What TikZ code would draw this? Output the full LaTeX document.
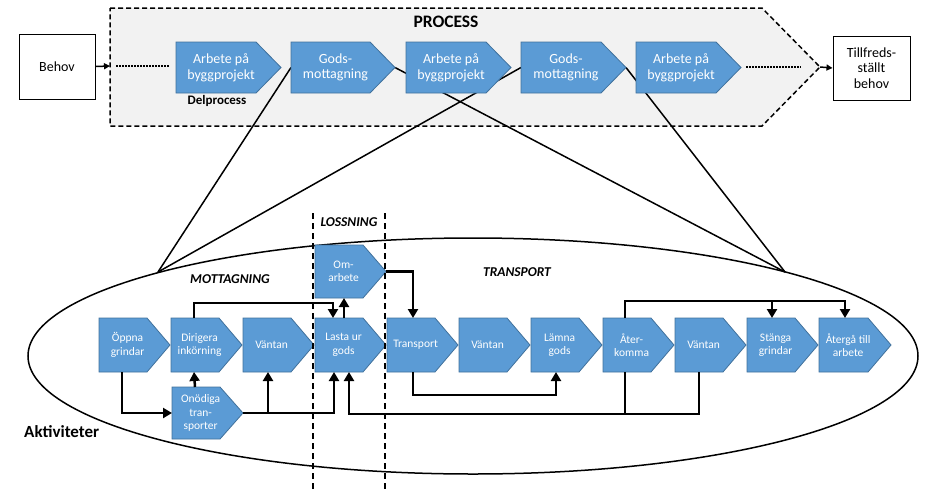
\documentclass[tikz,border=0pt]{standalone}
\usepackage{fontspec}
\setmainfont{Carlito}
\usetikzlibrary{arrows.meta,calc,shapes.geometric}
\definecolor{chevblue}{HTML}{5B9BD5}
\definecolor{chevedge}{HTML}{41719C}
\definecolor{procgray}{HTML}{F2F2F2}
\pgfdeclarelayer{back}
\pgfdeclarelayer{mid}
\pgfsetlayers{back,mid,main}
% #1 name, #2 x, #3 y top, #4 width, #5 height, #6 point, #7 text style, #8 text
\newcommand\chev[8]{%
  \node[chevbox, minimum width=#4pt, minimum height=#5pt, anchor=north west] (#1) at (#2,#3) {};
  \filldraw[chevshape] (#1.north west) -- ($(#1.north east)+(-#6,0)$) -- (#1.east)
     -- ($(#1.south east)+(-#6,0)$) -- (#1.south west) -- cycle;
  \node[#7] (#1-t) at ($(#1.center)+(-0.3*#6,0)$) {#8};
}
\tikzset{
  chevshape/.style={fill=chevblue, draw=chevedge, line width=0.8pt},
  chevbox/.style={inner sep=0pt, outer sep=0pt, draw=none},
  smalltext/.style={text=white, font=\fontsize{11.5}{13.5}\selectfont, align=center, inner sep=0pt},
  bigtext/.style={text=white, font=\fontsize{14}{15.5}\selectfont, align=center, inner sep=0pt},
  conn/.style={line width=2.5pt, -{Triangle[length=9pt,width=10pt]}},
  link/.style={line width=2.5pt},
  thin/.style={line width=1.5pt},
  whitebox/.style={draw, line width=1pt, fill=white, align=center, inner sep=0pt, font=\fontsize{14}{15.5}\selectfont},
  lbl/.style={inner sep=0pt, font=\bfseries\itshape\fontsize{13.5}{15}\selectfont},
}
\begin{document}
\begin{tikzpicture}[x=1pt,y=-1pt]
\useasboundingbox (0,0) rectangle (943,491);
% process shape
\begin{pgfonlayer}{back}
\filldraw[fill=procgray, line width=1.5pt, dash pattern=on 5pt off 3pt]
  (110,8) -- (762,8) -- (820,67) -- (762,126) -- (110,126) -- cycle;
\end{pgfonlayer}
\coordinate (pL) at (110,66);
\coordinate (pR) at (820,67);
\node[whitebox, minimum width=76pt, minimum height=65pt] (behov) at (57,66.5) {Behov};
\node[whitebox, minimum width=77pt, minimum height=64pt] (till) at (871.5,68) {Tillfreds-\\ställt\\behov};
\draw[thin, -{Triangle[length=6pt,width=6pt]}] (behov.east) -- (pL);
\draw[thin, -{Triangle[length=6pt,width=6pt]}] (pR) -- (till.west);
\coordinate (d1a) at (116,66); \coordinate (d1b) at (170,66);
\coordinate (d2a) at (746,67); \coordinate (d2b) at (801,67);
\draw[line width=1.5pt, dash pattern=on 1.5pt off 1.5pt] (d1a) -- (d1b);
\draw[line width=1.5pt, dash pattern=on 1.5pt off 1.5pt] (d2a) -- (d2b);
\node[inner sep=0pt, font=\bfseries\fontsize{17.5}{19}\selectfont] (proc) at (446,22) {PROCESS};
\node[inner sep=0pt, font=\bfseries\fontsize{13}{15}\selectfont] (delp) at (217,101) {Delprocess};
% upper chevrons
\chev{arb1}{176}{42}{105}{51}{25}{bigtext}{Arbete på\\byggprojekt}
\chev{god1}{291}{42}{104}{51}{25}{bigtext}{Gods-\\mottagning}
\chev{arb2}{406}{42}{105}{51}{25}{bigtext}{Arbete på\\byggprojekt}
\chev{god2}{521}{42}{105}{51}{25}{bigtext}{Gods-\\mottagning}
\chev{arb3}{636}{42}{105}{51}{25}{bigtext}{Arbete på\\byggprojekt}
% ellipse and zoom lines
\node[draw, ellipse, line width=1.5pt, minimum width=890pt, minimum height=236pt, inner sep=0pt] (ell) at (473,356) {};
\coordinate (eL) at (158,272);
\coordinate (eR) at (785,272);
\begin{pgfonlayer}{mid}
\draw[thin] (god1.west) -- (eL);
\draw[thin] (god2.west) -- (eL);
\draw[thin] (god1.east) -- (eR);
\draw[thin] (god2.east) -- (eR);
\end{pgfonlayer}
% lower chevrons
\chev{oppna}{99}{318}{71}{54}{23}{smalltext}{Öppna\\grindar}
\chev{dirig}{171}{318}{71}{54}{23}{smalltext}{Dirigera\\inkörning}
\chev{vant1}{243}{318}{71}{54}{23}{smalltext}{Väntan}
\chev{lasta}{315}{318}{71}{54}{23}{smalltext}{Lasta ur\\gods}
\chev{omarb}{315}{245}{71}{53}{23}{smalltext}{Om-\\arbete}
\chev{onod}{172}{387}{71}{52}{23}{smalltext}{Onödiga\\tran-\\sporter}
\chev{transp}{387}{318}{71}{54}{23}{smalltext}{Transport}
\chev{vant2}{459}{318}{71}{54}{23}{smalltext}{Väntan}
\chev{lamna}{531}{318}{71}{54}{23}{smalltext}{Lämna\\gods}
\chev{ater}{603}{318}{71}{54}{23}{smalltext}{Åter-\\komma}
\chev{vant3}{675}{318}{71}{54}{23}{smalltext}{Väntan}
\chev{stanga}{747}{318}{71}{54}{23}{smalltext}{Stänga\\grindar}
\chev{aterga}{819}{318}{72}{54}{23}{smalltext}{Återgå till\\arbete}
% connectors
\draw[conn] ([xshift=23pt]oppna.south west) |- (onod.west);
\draw[conn] ([xshift=23pt]onod.north west) -- ([xshift=23pt]dirig.south west);
\draw[conn] (onod.east) -| ([xshift=19pt]lasta.south west);
\draw[conn] ([xshift=25pt]vant1.south west |- onod.east) -- ([xshift=25pt]vant1.south west);
\draw[conn] ([xshift=23pt]dirig.north west) -- ++(0,-15) -| ([xshift=18pt]lasta.north west);
\draw[conn] ([xshift=29pt]lasta.north west) -- ([xshift=29pt]omarb.south west);
\draw[conn] (omarb.east) -| ([xshift=26pt]transp.north west);
\draw[conn] ([xshift=26pt]transp.south west) -- ++(0,23) -| ([xshift=25pt]lamna.south west);
\draw[conn] ([xshift=24pt]vant3.south west) -- ++(0,42) coordinate (bot) -| ([xshift=34pt]lasta.south west);
\draw[link] ([xshift=22pt]ater.south west) -- ([xshift=22pt]ater.south west |- bot);
\draw[conn] ([xshift=22pt]ater.north west) -- ++(0,-17) coordinate (topl) -| ([xshift=26pt]aterga.north west);
\draw[conn] ([xshift=25pt]stanga.north west |- topl) -- ([xshift=25pt]stanga.north west);
% dashed lossning lines
\coordinate (v1a) at (313,213); \coordinate (v1b) at (313,491);
\coordinate (v2a) at (385,213); \coordinate (v2b) at (385,491);
\draw[line width=1.5pt, dash pattern=on 6pt off 4pt] (v1a) -- (v1b);
\draw[line width=1.5pt, dash pattern=on 6pt off 4pt] (v2a) -- (v2b);
% labels
\node[lbl] (loss) at (349,222) {LOSSNING};
\node[lbl] (mott) at (230,279) {MOTTAGNING};
\node[lbl] (trans) at (517,272) {TRANSPORT};
\node[inner sep=0pt, anchor=west, font=\bfseries\fontsize{17}{19}\selectfont] (akt) at (24,432) {Aktiviteter};
\end{tikzpicture}
\end{document}
